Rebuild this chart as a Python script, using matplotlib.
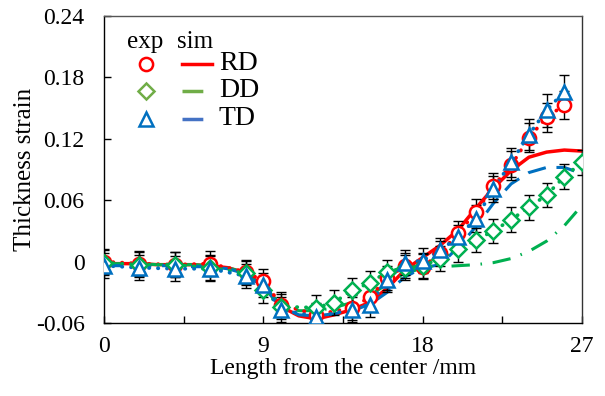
import matplotlib
matplotlib.use("Agg")
import matplotlib.pyplot as plt
from matplotlib.lines import Line2D

plt.rcParams['font.family'] = ['Liberation Serif', 'DejaVu Serif']

# dati sperimentali (exp)
x_rd = [0, 2, 4, 6, 8, 9, 10, 12, 14, 15, 16, 17, 18, 19, 20, 21, 22, 23, 24, 25, 26]
y_rd = [0.000, -0.002, -0.003, -0.002, -0.010, -0.019, -0.042, -0.052, -0.045, -0.035,
        -0.016, -0.004, -0.005, 0.008, 0.028, 0.048, 0.074, 0.094, 0.121, 0.141, 0.153]
e_rd = [0.012, 0.012, 0.012, 0.012, 0.012, 0.012, 0.012, 0.012, 0.012, 0.012,
        0.012, 0.012, 0.012, 0.012, 0.012, 0.013, 0.013, 0.014, 0.014, 0.014, 0.014]

x_dd = [0, 2, 4, 6, 8, 9, 10, 12, 13, 14, 15, 16, 17, 18, 19, 20, 21, 22, 23, 24, 25, 26, 27]
y_dd = [-0.001, -0.003, -0.003, -0.006, -0.011, -0.028, -0.044, -0.045, -0.040, -0.028,
        -0.021, -0.010, -0.006, -0.004, 0.003, 0.012, 0.021, 0.030, 0.041, 0.053,
        0.065, 0.083, 0.097]
e_dd = [0.012] * 23

x_td = [0, 2, 4, 6, 8, 9, 10, 12, 14, 15, 16, 17, 18, 19, 20, 21, 22, 23, 24, 25, 26]
y_td = [-0.004, -0.006, -0.007, -0.007, -0.014, -0.023, -0.047, -0.054, -0.047, -0.042,
        -0.018, -0.001, 0.001, 0.011, 0.024, 0.042, 0.071, 0.097, 0.124, 0.148, 0.166]
e_td = [0.012, 0.012, 0.012, 0.012, 0.012, 0.012, 0.012, 0.012, 0.012, 0.012,
        0.012, 0.012, 0.012, 0.012, 0.012, 0.013, 0.013, 0.014, 0.015, 0.016, 0.016]

# simulazione (sim)
x_sim = list(range(28))
s_rd = [-0.002, -0.002, -0.002, -0.003, -0.003, -0.003, -0.004, -0.006, -0.011, -0.024,
        -0.044, -0.053, -0.056, -0.052, -0.047, -0.040, -0.026, -0.008, 0.004, 0.016,
        0.031, 0.052, 0.072, 0.089, 0.102, 0.107, 0.109, 0.108]
s_dd = [-0.002, -0.002, -0.002, -0.003, -0.003, -0.003, -0.004, -0.006, -0.011, -0.024,
        -0.042, -0.048, -0.048, -0.045, -0.040, -0.033, -0.022, -0.012, -0.006, -0.005,
        -0.004, -0.003, -0.001, 0.003, 0.010, 0.020, 0.035, 0.055]
s_td = [-0.004, -0.004, -0.004, -0.004, -0.004, -0.005, -0.005, -0.007, -0.012, -0.025,
        -0.044, -0.052, -0.053, -0.051, -0.048, -0.042, -0.030, -0.015, -0.006, -0.003,
        0.014, 0.034, 0.057, 0.076, 0.087, 0.092, 0.092, 0.086]

x_ticks = [0, 9, 18, 27]
y_ticks = [-0.06, 0, 0.06, 0.12, 0.18, 0.24]
y_labels = ['-0.06', '0', '0.06', '0.12', '0.18', '0.24']

c_rd = '#FF0000'
c_dd = '#00B050'
c_td = '#0070C0'

fig = plt.figure(figsize=(6.05, 3.96), dpi=100)
ax = fig.add_axes([104/605, 1-323/396, 478/605, 307/396])

# linee di simulazione
ax.plot(x_sim, s_rd, color=c_rd, lw=2.5, zorder=2)
ax.plot(x_sim, s_dd, color=c_dd, lw=2.2, linestyle=(0, (6, 3.5, 0.5, 3.5)), zorder=2)
ax.plot(x_sim, s_td, color=c_td, lw=2.2, linestyle=(0, (6, 3.5)), zorder=2)

# punti sperimentali con barre di errore
series = [(x_rd, y_rd, e_rd, c_rd, 'o', 9.5),
          (x_dd, y_dd, e_dd, c_dd, 'D', 8.5),
          (x_td, y_td, e_td, c_td, '^', 10.5)]
for xs, ys, es, col, mk, ms in series:
    ax.errorbar(xs, ys, yerr=es, fmt='none', ecolor='black', elinewidth=1,
                capsize=3.5, capthick=1, zorder=3)
    ax.plot(xs, ys, color=col, lw=2.7, linestyle=(0, (0.1, 2.3)),
            dash_capstyle='round', zorder=4)
for xs, ys, es, col, mk, ms in series:
    ax.plot(xs, ys, linestyle='none', marker=mk, ms=ms, mfc='white',
            mec=col, mew=1.8, zorder=5)

ax.set_xlim(0, 27)
ax.set_ylim(-0.06, 0.24)
ax.set_xticks(x_ticks)
ax.set_xticks([4.5, 13.5, 22.5], minor=True)
ax.set_yticks(y_ticks)
ax.set_yticklabels(y_labels)
ax.tick_params(axis='both', which='both', direction='in', length=5, width=1,
               labelsize=17, top=False, right=False)
ax.tick_params(axis='x', pad=9)
ax.tick_params(axis='y', pad=14)
for s in ax.spines.values():
    s.set_linewidth(1)
ax.spines['top'].set_color('#555555')
ax.spines['right'].set_color('#333333')

ax.set_xlabel('Length from the center /mm', fontsize=17, labelpad=1)
ax.set_ylabel('Thickness strain', fontsize=18, labelpad=0)

# legenda manuale
tr = ax.transAxes
ax.text(0.086, 0.915, 'exp', transform=tr, fontsize=18, ha='center', va='center')
ax.text(0.190, 0.915, 'sim', transform=tr, fontsize=18, ha='center', va='center')
leg = [('RD', c_rd, 'o', 9.5, '-'),
       ('DD', '#70AD47', 'D', 8.5, (0, (6, 3.5, 0.5, 3.5))),
       ('TD', '#4472C4', '^', 10.5, (0, (6, 3.5)))]
rows = [0.844, 0.756, 0.665]
for (lab, col, mk, ms, ls), yr in zip(leg, rows):
    mcol = c_td if lab == 'TD' else col
    ax.add_line(Line2D([0.088], [yr], transform=tr, marker=mk, ms=ms, mfc='white',
                       mec=mcol, mew=1.8, linestyle='none', clip_on=False))
    ax.add_line(Line2D([0.163, 0.226], [yr, yr], transform=tr, color=col, lw=2.5,
                       linestyle=ls, clip_on=False))
    ax.text(0.240, yr, lab, transform=tr, fontsize=20, va='center', ha='left')

fig.savefig('out.png', dpi=100)
